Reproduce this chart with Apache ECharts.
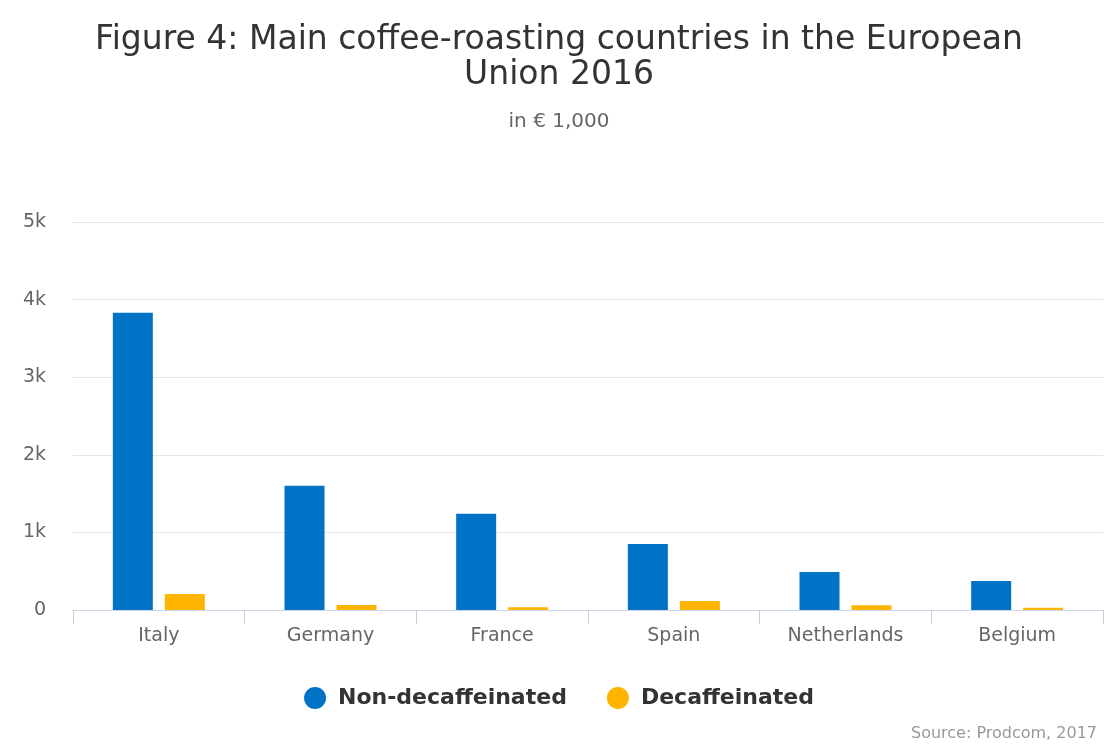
<!DOCTYPE html>
<html><head><meta charset="utf-8">
<script src="https://cdn.jsdelivr.net/npm/echarts@6/dist/echarts.min.js"></script>
<style>html,body{margin:0;padding:0;background:#fff}#c{width:1118px;height:744px}</style>
</head><body><div id="c"></div>
<script>
const categories = ['Italy','Germany','France','Spain','Netherlands','Belgium'];
const nonDecaf = [3830, 1600, 1240, 850, 490, 375];
const decaf = [205, 65, 35, 115, 60, 30];
const yTicks = [0, 1000, 2000, 3000, 4000, 5000];
const FONT = '"DejaVu Sans", sans-serif';
const chart = echarts.init(document.getElementById('c'));
chart.setOption({
  animation: false,
  textStyle: {fontFamily: FONT},
  title: [
    {text: 'Figure 4: Main coffee-roasting countries in the European\nUnion 2016', left: 'center', top: 18,
     textStyle: {fontFamily: FONT, fontSize: 33, fontWeight: 'normal', color: '#333', lineHeight: 35}},
    {text: 'in € 1,000', left: 'center', top: 107, textStyle: {fontFamily: FONT, fontSize: 20, fontWeight: 'normal', color: '#666'}},
    {text: 'Source: Prodcom, 2017', right: 16, top: 721, textStyle: {fontFamily: FONT, fontSize: 16, fontWeight: 'normal', color: '#999'}}
  ],
  legend: {top: 682, left: 'center', itemGap: 40, icon: 'circle', itemWidth: 22, itemHeight: 22,
    textStyle: {fontFamily: FONT, fontSize: 22, fontWeight: 'bold', color: '#333', padding: [0,0,0,7]},
    data: ['Non-decaffeinated','Decaffeinated']},
  grid: {left: 73, right: 15, top: 222, bottom: 134},
  xAxis: {type: 'category', data: categories,
    axisLine: {lineStyle: {color: '#ccd6eb'}},
    axisTick: {show: true, length: 14, lineStyle: {color: '#c8d0df'}},
    axisLabel: {fontFamily: FONT, fontSize: 19, color: '#666', margin: 17}},
  yAxis: {type: 'value', min: 0, max: 5000, interval: 1000,
    axisLine: {show: false}, axisTick: {show: false},
    splitLine: {lineStyle: {color: '#e6e6e6'}},
    axisLabel: {fontFamily: FONT, fontSize: 19, color: '#666', margin: 27,
      formatter: v => yTicks.includes(v) ? (v === 0 ? '0' : (v/1000) + 'k') : ''}},
  series: [
    {name: 'Non-decaffeinated', type: 'bar', data: nonDecaf, barWidth: 40, barGap: '30%', itemStyle: {color: '#0073c6'}},
    {name: 'Decaffeinated', type: 'bar', data: decaf, barWidth: 40, itemStyle: {color: '#ffb400'}}
  ]
});
</script></body></html>
